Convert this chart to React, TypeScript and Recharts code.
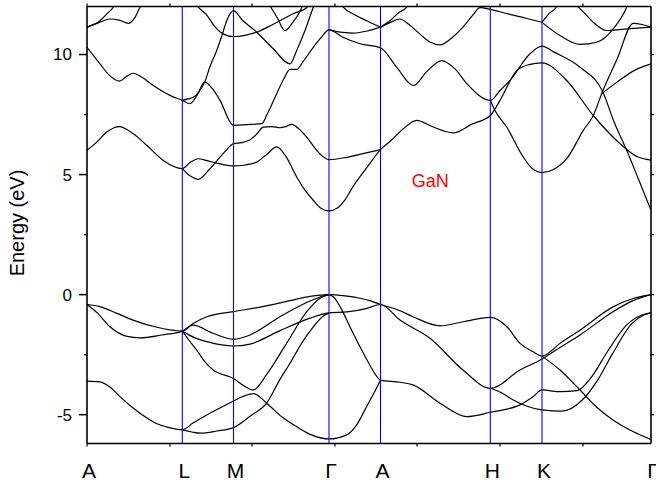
import React from 'react';
import { LineChart, Line, XAxis, YAxis } from 'recharts';

const FONT = '"Liberation Sans", Arial, Helvetica, sans-serif';

// high-symmetry points along the k-path
const SYM_K = [0, 95.3, 146.5, 242, 293.5, 403.3, 455, 564];
const SYM_LABELS = ['A', 'L', 'M', 'Γ', 'A', 'H', 'K', 'Γ'];
const FRAME_X_TICKS = [0, 83, 165, 248, 330, 413, 496];
const Y_MAJOR = [-5, 0, 5, 10];
const Y_MINOR = [-2.5, 2.5, 7.5];
const Y_DOMAIN = [-6.2, 12];

// valence bands [k, E(eV)]
const vb1 = [[0,-0.41],[13,-0.5],[30,-0.78],[46,-1.06],[70,-1.36],[95.3,-1.52],[106,-1.2],[120,-0.92],[146.5,-0.71],[173,-0.52],[203,-0.25],[223,-0.07],[242,0],[258,-0.05],[273,-0.15],[285,-0.28],[293.5,-0.41],[310,-0.62],[326,-0.92],[353,-1.3],[376,-1.13],[403.3,-0.95],[420,-1.34],[433,-2.03],[446,-2.38],[455,-2.56],[473,-2.03],[493,-1.48],[526,-0.51],[546,-0.16],[564,0]];
const vb2 = [[0,-0.41],[10,-0.75],[23,-1.34],[40,-1.74],[53,-1.8],[75,-1.68],[95.3,-1.52],[106,-1.27],[126,-1.61],[146.5,-1.86],[163,-1.68],[193,-0.92],[216,-0.4],[230,-0.15],[242,0],[247,-0.12],[253,-0.5],[266,-1.6],[280,-2.72],[288,-3.3],[293.5,-3.56],[313,-3.65],[326,-3.76],[353,-4.52],[380,-5.08],[403.3,-4.9],[433,-4.59],[446,-4.25],[455,-3.97],[473,-4.04],[490,-4.0],[505,-3.4],[520,-2.4],[540,-1.25],[555,-0.85],[564,-0.76]];
const vb3 = [[95.3,-1.52],[108,-1.8],[120,-1.96],[146.5,-2.14],[163,-2.06],[193,-1.5],[223,-0.98],[242,-0.76],[260,-0.72],[280,-0.57],[293.5,-0.41],[313,-1.06],[343,-1.82],[376,-3.14],[403.3,-3.9],[433,-3.14],[455,-2.68],[473,-2.2],[493,-1.68],[526,-0.71],[546,-0.25],[564,0]];
const vb4 = [[95.3,-1.52],[102,-1.9],[109.7,-2.31],[118,-2.8],[126.3,-3.14],[146.5,-3.49],[157,-3.8],[166.3,-3.97],[180,-3.3],[200,-2.0],[220,-0.7],[235,-0.1],[242,0]];
const vb5 = [[95.3,-5.63],[105,-5.72],[113,-5.77],[130,-5.68],[146.5,-5.54],[164.7,-5.01],[179.7,-4.52],[192,-3.6],[203,-2.86],[215,-2.0],[226.3,-1.34],[236,-0.9],[242,-0.76]];
const vb6 = [[0,-3.6],[13,-3.63],[23,-3.85],[33,-4.25],[43,-4.62],[53,-4.94],[70,-5.38],[83,-5.55],[95.3,-5.63],[106,-5.35],[119.7,-5.01],[133,-4.72],[146.5,-4.43],[157,-4.22],[166.3,-4.12],[179.7,-4.52],[195,-5.1],[209.7,-5.5],[225,-5.85],[242,-6.01],[259.7,-5.84],[270,-5.4],[279.7,-4.66],[287,-4.1],[293.5,-3.56]];
const vb7 = [[403.3,-3.9],[415,-4.1],[426.3,-4.39],[440,-4.65],[455,-4.8],[475,-4.85],[495,-4.4],[510,-3.6],[525,-2.5],[545,-1.2],[557,-0.85],[564,-0.76]];
const vb8 = [[455,-2.56],[473,-3.14],[493,-3.97],[510,-4.7],[526,-5.22],[546,-5.7],[564,-6.03]];

// conduction bands [k, E(eV)]
const cb1 = [[0,6.01],[9.7,6.35],[19.7,6.77],[32.3,7.0],[46.3,6.7],[59.7,6.22],[76.3,5.59],[95.3,5.25],[103,5.5],[111.3,5.66],[120,5.58],[129.7,5.48],[146.5,5.36],[158,5.4],[169.7,5.52],[180,5.85],[189.7,6.15],[199,5.75],[209.7,4.9],[218,4.35],[226.3,3.93],[234,3.6],[242,3.49],[250,3.6],[258,3.95],[266,4.5],[280,5.3],[293.5,6.04],[304,6.42],[316,6.9],[329.7,7.26],[345,7.0],[366.3,6.74],[385,7.1],[403.3,7.46],[413,8.09],[429.7,9.33],[442,9.58],[455,9.65],[479.7,8.92],[506.3,7.46],[533,6.29],[550,5.75],[564,5.6]];
const cb2 = [[0,10.3],[13,9.61],[22,9.15],[32.3,8.89],[40,9.1],[46.3,9.22],[55,9.05],[66.3,8.71],[83,8.3],[95.3,8.09],[103,7.95],[110,8.3],[117.7,8.85],[125,8.6],[133,8.09],[146.5,7.05],[160,7.08],[174.7,7.12],[180,7.5],[189.7,8.37],[197,9.0],[203,9.38],[209.7,9.38],[216,9.7],[226.3,10.3],[234,10.7],[242,11.03],[256,10.72],[273,10.45],[293.5,10.28],[310,9.45],[326.3,8.71],[340,9.3],[354.7,9.75],[368,9.4],[380,8.78],[403.3,8.09],[413,8.5],[423,8.92],[443,10.03],[455,10.35],[467,10.1],[493,9.47],[516,8.43],[527,7.2],[539.7,6.01],[552,4.75],[564,3.51]];
const cb3 = [[95.3,5.25],[103,4.95],[111.3,4.8],[122,5.2],[133,5.73],[140,6.05],[146.5,6.29],[155,6.33],[163,6.45],[170,6.7],[176.3,6.98],[185,7.0],[193,6.95],[199,7.0],[204.7,7.09],[212,6.9],[219.7,6.56],[229.7,6.01],[236,5.75],[242,5.62],[260,5.72],[277,5.88],[293.5,6.04]];
const cb4 = [[95.3,8.09],[101,8.15],[106.3,8.22],[112,8.45],[117.7,8.85],[123,9.5],[129.7,10.17],[135,10.8],[139.7,11.41],[146.5,11.83],[155,11.45],[169.7,10.93],[186,10.25],[203,9.61],[210,10.2],[218,11.0],[226.3,11.97],[228,12.15]];
const cb5 = [[0,11.14],[13,11.41],[20,11.7],[26.3,11.97],[28,12.1]];
const cb6 = [[0,11.14],[12,11.33],[23,11.48],[33,11.42],[41.3,11.3],[48,11.55],[53,11.97],[55,12.1]];
const cb7 = [[108,12.15],[113,11.9],[119,11.68],[128,11.15],[136,10.86],[146.5,10.75],[158,10.8],[169.7,10.93],[181,11.15],[193,11.41],[206,11.7],[219.7,11.95],[222,12.1]];
const cb8 = [[182,12.1],[190,11.55],[198,11.0],[206,11.35],[213,11.8],[216,12.1]];
const cb9 = [[242,11.03],[256,10.92],[266,10.89],[280,10.98],[293.5,11.14]];
const cb10 = [[254,12.1],[256.3,11.97],[268,11.65],[279.7,11.41],[293.5,11.14]];
const cb11 = [[293.5,11.14],[303,11.33],[313,11.48],[322,11.25],[333,10.85],[343,10.52],[353,10.4],[365,10.7],[376,11.14],[386,11.65],[393,11.95],[403.3,11.88],[420,11.7],[440,11.5],[455,11.34]];
const cb12 = [[293.5,11.14],[303,11.41],[312,11.75],[319.7,11.97],[321,12.1]];
const cb13 = [[403.3,8.09],[408,7.67],[419.7,6.98],[436.3,5.73],[446,5.22],[455,5.08],[466,5.2],[479.7,5.66],[496.3,6.84],[506.3,7.46],[514.7,8.37],[530,9.8],[546.3,11.3],[555,11.25],[564,11.14]];
const cb14 = [[514.7,8.37],[530,8.85],[548,9.35],[564,9.61]];
const cb15 = [[455,11.34],[473,10.79],[493,10.42],[509.7,10.51],[526.3,11.07],[539.7,11.97],[541,12.1]];
const cb16 = [[455,11.34],[462,11.7],[469.7,12.0],[471,12.1]];
const cb17 = [[489.7,12.05],[498,11.7],[506.3,11.34],[519.7,11.0],[535,11.05],[550,11.1],[564,11.14]];

const BANDS = [vb1, vb2, vb3, vb4, vb5, vb6, vb7, vb8, cb1, cb2, cb3, cb4, cb5, cb6, cb7, cb8, cb9, cb10, cb11, cb12, cb13, cb14, cb15, cb16, cb17];

const toPts = (a: number[][]) => a.map(([k, e]) => ({ k, e }));

const near = (list: number[], v: number) => list.findIndex((t) => Math.abs(t - v) < 0.01);

const BOTTOM_TICKS = Array.from(new Set([...SYM_K, ...FRAME_X_TICKS])).sort((a, b) => a - b);
const Y_TICKS = [...Y_MAJOR, ...Y_MINOR].sort((a, b) => a - b);

const BottomTick = (props: any) => {
  const { x, y, payload } = props;
  const v = payload.value;
  const si = near(SYM_K, v);
  const isFrame = near(FRAME_X_TICKS, v) >= 0;
  return (
    <g>
      {isFrame && <line x1={x} x2={x} y1={y} y2={y + 3} stroke="#000" strokeWidth={1.2} />}
      {si >= 0 && (
        <text x={x + 2} y={y + 34} textAnchor="middle" fontSize={21} fontFamily={FONT} fill="#000">
          {SYM_LABELS[si]}
        </text>
      )}
    </g>
  );
};

const TopTick = (props: any) => {
  const { x, y } = props;
  return <line x1={x} x2={x} y1={y} y2={y - 3} stroke="#000" strokeWidth={1.2} />;
};

const LeftTick = (props: any) => {
  const { x, y, payload } = props;
  const v = payload.value;
  const major = near(Y_MAJOR, v) >= 0;
  return (
    <g>
      <line x1={x - (major ? 8 : 3)} x2={x} y1={y} y2={y} stroke="#000" strokeWidth={1.5} />
      {major && (
        <text x={x - 15} y={y} dy="0.35em" textAnchor="end" fontSize={17} fontFamily={FONT} fill="#000">
          {String(v)}
        </text>
      )}
    </g>
  );
};

const RightTick = (props: any) => {
  const { x, y } = props;
  return <line x1={x} x2={x + 3} y1={y} y2={y} stroke="#000" strokeWidth={1.2} />;
};

export default function App() {
  const axisLine = { stroke: '#000', strokeWidth: 1.6 };
  const markers = SYM_K.slice(1, -1).map((k) => [{ k, e: Y_DOMAIN[0] }, { k, e: Y_DOMAIN[1] }]);
  return (
    <div style={{ position: 'absolute', left: 0, top: 0, width: 656, height: 481, background: '#fff' }}>
      <LineChart width={656} height={481} margin={{ top: 5.5, right: 0, bottom: 0, left: 0 }}>
        <XAxis xAxisId="b" dataKey="k" type="number" domain={[0, 564]} ticks={BOTTOM_TICKS} interval={0}
          tickSize={0} tickMargin={0} tickLine={false} tick={BottomTick} height={37.5} axisLine={axisLine} allowDataOverflow />
        <XAxis xAxisId="t" orientation="top" dataKey="k" type="number" domain={[0, 564]} ticks={FRAME_X_TICKS} interval={0}
          tickSize={0} tickMargin={0} tickLine={false} tick={TopTick} height={1} axisLine={axisLine} allowDataOverflow />
        <YAxis yAxisId="l" type="number" domain={Y_DOMAIN} ticks={Y_TICKS} interval={0} width={87}
          tickSize={0} tickMargin={0} tickLine={false} tick={LeftTick} axisLine={axisLine} allowDataOverflow />
        <YAxis yAxisId="r" orientation="right" type="number" domain={Y_DOMAIN} ticks={Y_TICKS} interval={0} width={5}
          tickSize={0} tickMargin={0} tickLine={false} tick={RightTick} axisLine={axisLine} allowDataOverflow />
        {BANDS.map((b, i) => (
          <Line key={'b' + i} data={toPts(b)} dataKey="e" xAxisId="b" yAxisId="l" type="monotone"
            stroke="#000" strokeWidth={1.2} dot={false} activeDot={false} isAnimationActive={false} />
        ))}
        {markers.map((d, i) => (
          <Line key={'m' + i} data={d} dataKey="e" xAxisId="b" yAxisId="l" type="linear"
            stroke="#0000ff" strokeWidth={1.1} dot={false} activeDot={false} isAnimationActive={false} />
        ))}
        <text x={24} y={223} transform="rotate(-90 24 223)" textAnchor="middle" fontSize={20} fontFamily={FONT} fill="#000">
          Energy (eV)
        </text>
        <text x={411.7} y={187} fontSize={18} fontFamily={FONT} fill="#ff0000">GaN</text>
      </LineChart>
    </div>
  );
}
